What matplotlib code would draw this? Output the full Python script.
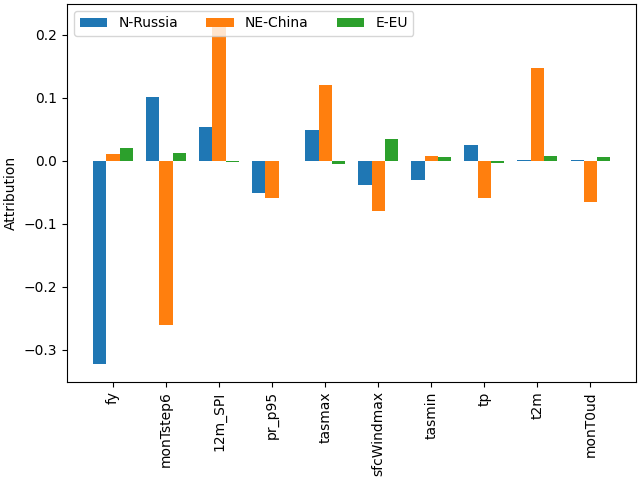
import matplotlib
matplotlib.use("Agg")
import matplotlib.pyplot as plt
import numpy as np

categories = ["fy", "monTstep6", "12m_SPI", "pr_p95", "tasmax", "sfcWindmax", "tasmin", "tp", "t2m", "monT0ud"]
n_russia = [-0.323, 0.102, 0.054, -0.0505, 0.0495, -0.039, -0.031, 0.025, 0.002, 0.002]
ne_china = [0.011, -0.260, 0.222, -0.0585, 0.121, -0.079, 0.008, -0.059, 0.147, -0.065]
e_eu = [0.021, 0.013, -0.002, 0.0, -0.0043, 0.035, 0.006, -0.003, 0.008, 0.006]
series_names = ["N-Russia", "NE-China", "E-EU"]

fig, ax = plt.subplots(figsize=(6.4, 4.8), dpi=100)
x = np.arange(len(categories))
w = 0.25
for i, (vals, name) in enumerate(zip([n_russia, ne_china, e_eu], series_names)):
    ax.bar(x + (i - 1) * w, vals, width=w, label=name)
ax.set_xticks(x)
ax.set_xticklabels(categories, rotation=90)
ax.set_ylabel("Attribution")
ax.legend(loc="upper left", ncol=3)
fig.subplots_adjust(left=0.105, right=0.994, top=0.992, bottom=0.205)
fig.savefig("out.png")
